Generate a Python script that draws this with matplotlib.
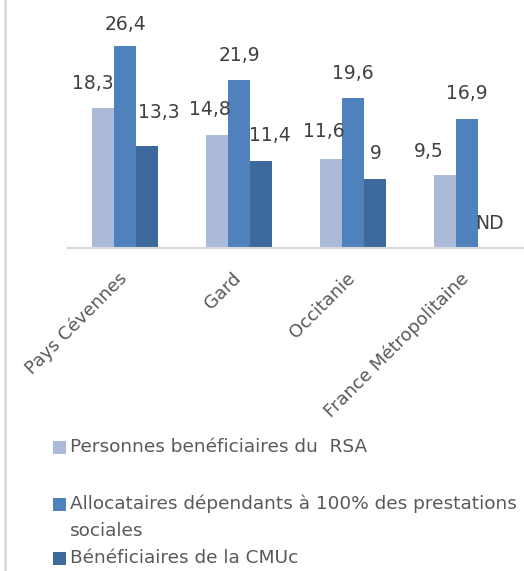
import numpy as np
import matplotlib; matplotlib.use("Agg")
import matplotlib.pyplot as plt
import matplotlib.transforms as mtransforms
from matplotlib.patches import Rectangle
from matplotlib.lines import Line2D

categories = ["Pays Cévennes", "Gard", "Occitanie", "France Métropolitaine"]
series_names = ["Personnes benéficiaires du  RSA",
                "Allocataires dépendants à 100% des prestations\nsociales",
                "Bénéficiaires de la CMUc"]
rsa = [18.3, 14.8, 11.6, 9.5]
alloc = [26.4, 21.9, 19.6, 16.9]
cmuc = [13.3, 11.4, 9.0, np.nan]

colors = ["#AABAD8", "#4F81BD", "#3E699C"]
# label offsets (pixels) relative to bar top centre
label_offsets = [
    [(-10, 25), (-7, 25), (-7, 28), (-16, 24)],
    [(1, 22), (0, 25), (0, 25), (0, 25)],
    [(12, 34), (9, 25), (1, 26), (0, 24)],
]

W, H = 524, 571
fig = plt.figure(figsize=(W / 100, H / 100), dpi=100)
# axes in pixel coords: left 68, right 524, baseline at y=248 from top
ax = fig.add_axes([68 / W, (H - 248) / H, 456 / W, 229.5 / H])

x = np.arange(len(categories))
bw = 0.193
for i, (vals, col) in enumerate(zip([rsa, alloc, cmuc], colors)):
    xs = x + (i - 1) * bw
    ax.bar(xs, np.nan_to_num(vals), width=bw, color=col, edgecolor="none")
    for j, v in enumerate(vals):
        txt = "ND" if np.isnan(v) else f"{v:g}".replace(".", ",")
        top = 0 if np.isnan(v) else v
        dx, dy = label_offsets[i][j]
        ax.annotate(txt, (xs[j], top), xytext=(dx, dy), textcoords="offset pixels",
                    ha="center", va="center", fontsize=13.5, color="#404040")

ax.set_xlim(-0.5, 3.5)
ax.set_ylim(0, 30)
ax.set_yticks([])
ax.set_xticks(x)
ax.set_xticklabels([])
ax.tick_params(axis="x", length=0)
# category labels, rotated, shifted a bit left/down of the tick
lab_tr = ax.get_xaxis_transform() + mtransforms.ScaledTranslation(-7 / 100, -21 / 100, fig.dpi_scale_trans)
for xi, cat in zip(x, categories):
    ax.text(xi, 0, cat, transform=lab_tr, rotation=45, ha="right", va="top",
            rotation_mode="anchor", fontsize=13, color="#595959")
for s in ["top", "left", "right"]:
    ax.spines[s].set_visible(False)
ax.spines["bottom"].set_color("#D9D9D9")
ax.spines["bottom"].set_linewidth(1.5)

# left border line
fig.add_artist(Line2D([4.5 / W, 4.5 / W], [0, 1], color="#D9D9D9", lw=2,
                      transform=fig.transFigure))

# legend (drawn manually to mimic layout)
leg_y = [447, 504, 558]
line_h = 27
for name, col, yy in zip(series_names, colors, leg_y):
    fig.add_artist(Rectangle((53 / W, (H - yy - 6.5) / H), 13 / W, 13 / H,
                             facecolor=col, edgecolor="none", transform=fig.transFigure))
    for k, line in enumerate(name.split("\n")):
        fig.text(70 / W, (H - yy - k * line_h) / H, line, ha="left", va="center",
                 fontsize=13.3, color="#595959")

fig.savefig("out.png", dpi=100)
